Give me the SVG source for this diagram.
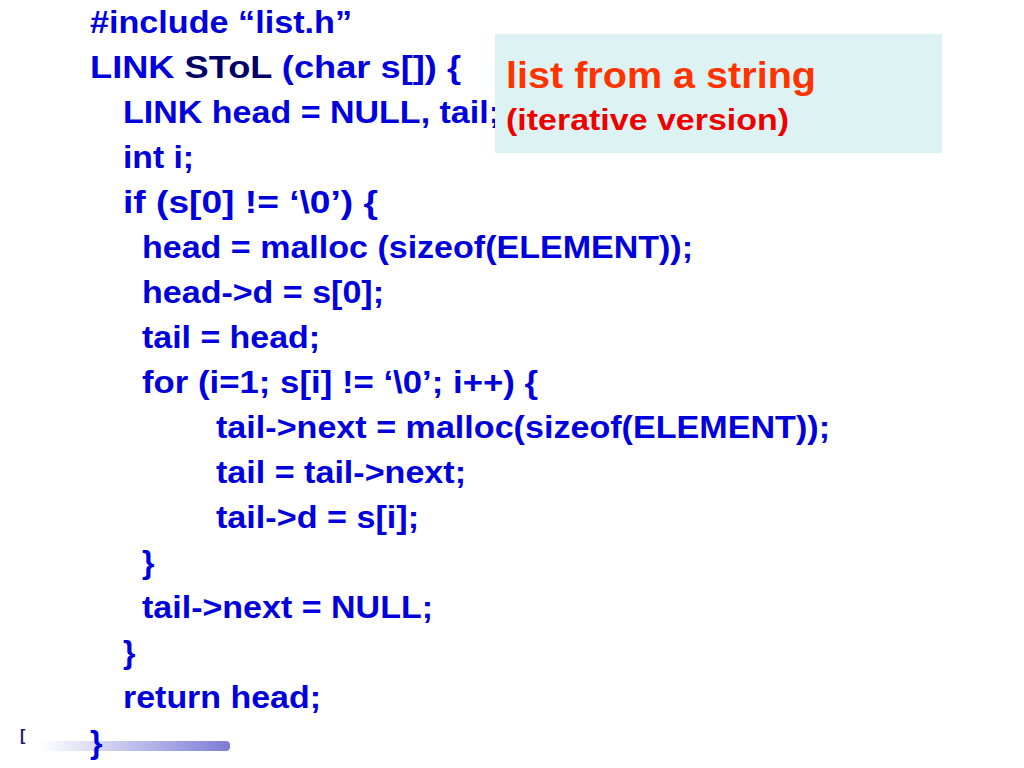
<svg xmlns="http://www.w3.org/2000/svg" width="1024" height="768" viewBox="0 0 1024 768">
<style>
.c{font-family:"Liberation Sans",Arial,sans-serif;font-weight:bold;font-size:32px;fill:#0000DD}
</style>
<defs><linearGradient id="g" x1="0" x2="1"><stop offset="0" stop-color="#fff"/><stop offset="1" stop-color="#7C7CD6"/></linearGradient></defs>
<rect width="1024" height="768" fill="#fff"/>
<rect x="40" y="741" width="190" height="10" rx="4" fill="url(#g)"/>
<text x="20" y="741" font-family="Liberation Sans,sans-serif" font-weight="bold" font-size="16" fill="#1a1a6e">[</text>
<g id="code" class="c" xml:space="preserve">
<text x="90" y="33" class="c" textLength="262" lengthAdjust="spacingAndGlyphs">#include “list.h”</text>
<text x="90" y="78" class="c" textLength="371" lengthAdjust="spacingAndGlyphs">LINK  <tspan fill="#000066">SToL</tspan>  (char s[]) {</text>
<text x="123" y="123" class="c" textLength="377" lengthAdjust="spacingAndGlyphs">LINK head = NULL, tail;</text>
<text x="123" y="168" class="c" textLength="71" lengthAdjust="spacingAndGlyphs">int i;</text>
<text x="123" y="213" class="c" textLength="255" lengthAdjust="spacingAndGlyphs">if (s[0] != ‘\0’)   {</text>
<text x="142" y="258" class="c" textLength="551" lengthAdjust="spacingAndGlyphs">head = malloc (sizeof(ELEMENT));</text>
<text x="142" y="303" class="c" textLength="242" lengthAdjust="spacingAndGlyphs">head-&gt;d = s[0];</text>
<text x="142" y="348" class="c" textLength="178" lengthAdjust="spacingAndGlyphs">tail = head;</text>
<text x="142" y="393" class="c" textLength="396" lengthAdjust="spacingAndGlyphs">for (i=1; s[i] != ‘\0’; i++)  {</text>
<text x="216" y="438" class="c" textLength="614" lengthAdjust="spacingAndGlyphs">tail-&gt;next = malloc(sizeof(ELEMENT));</text>
<text x="216" y="483" class="c" textLength="250" lengthAdjust="spacingAndGlyphs">tail = tail-&gt;next;</text>
<text x="216" y="528" class="c" textLength="203" lengthAdjust="spacingAndGlyphs">tail-&gt;d = s[i];</text>
<text x="142" y="573" class="c">}</text>
<text x="142" y="618" class="c" textLength="291" lengthAdjust="spacingAndGlyphs">tail-&gt;next = NULL;</text>
<text x="123" y="663" class="c">}</text>
<text x="123" y="708" class="c" textLength="198" lengthAdjust="spacingAndGlyphs">return head;</text>
<text x="90" y="753" class="c">}</text>
</g>
<g id="title">
<rect x="495" y="34" width="447" height="119" fill="#DDF3F3"/>
<text x="506" y="88" font-family="Liberation Sans,sans-serif" font-weight="bold" font-size="37" fill="#FF3300" textLength="310" lengthAdjust="spacingAndGlyphs">list from a string</text>
<text x="506" y="130" font-family="Liberation Sans,sans-serif" font-weight="bold" font-size="30" fill="#EE0000" textLength="283" lengthAdjust="spacingAndGlyphs">(iterative version)</text>
</g>
</svg>
